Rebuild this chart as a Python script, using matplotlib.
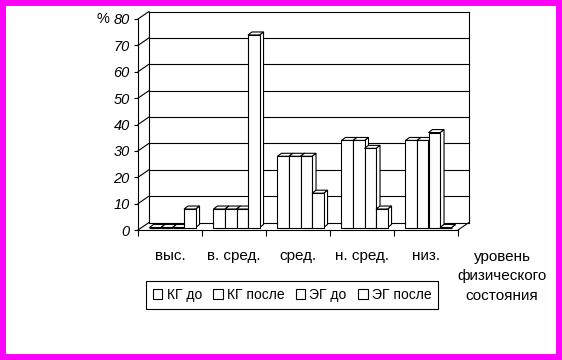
import matplotlib
matplotlib.use('Agg')
import matplotlib.pyplot as plt
from matplotlib.patches import Rectangle, Polygon, Patch

# данные: уровень физического состояния, %
categories = ['выс.', 'в. сред.', 'сред.', 'н. сред.', 'низ.']
series = ['КГ до', 'КГ после', 'ЭГ до', 'ЭГ после']
kg_before = [0, 7, 27, 33, 33]
kg_after = [0, 7, 27, 33, 33]
eg_before = [0, 7, 27, 30, 36]
eg_after = [7, 73, 13, 7, 0]
yticks = [0, 10, 20, 30, 40, 50, 60, 70, 80]

plt.rcParams['font.family'] = ['Liberation Sans', 'DejaVu Sans']
plt.rcParams['font.size'] = 10

fig = plt.figure(figsize=(5.62, 3.6), dpi=100)
ax = fig.add_axes([138 / 562, 130 / 360, 320 / 562, 211 / 360])
ax.set_xlim(0, len(categories))
ax.set_ylim(0, 80)

# перевод пикселей в единицы данных (псевдо-3D)
ux = 320 / len(categories)
uy = 211 / 80
back_x, back_y = 11 / ux, 7.5 / uy
off_x, off_y = 2.5 / ux, 2.5 / uy
dep_x, dep_y = 4 / ux, 3 / uy
lw = 0.8
n = len(categories)

# задняя стенка, левая стенка и пол
for t in yticks:
    ax.plot([back_x, n + back_x], [t + back_y, t + back_y], color='black', lw=lw, clip_on=False, zorder=1)
    ax.plot([0, back_x], [t, t + back_y], color='black', lw=lw, clip_on=False, zorder=1)
ax.plot([back_x, back_x], [back_y, 80 + back_y], color='black', lw=lw, clip_on=False, zorder=1)
ax.plot([n + back_x, n + back_x], [back_y, 80 + back_y], color='black', lw=lw, clip_on=False, zorder=1)
ax.plot([n, n + back_x], [0, back_y], color='black', lw=lw, clip_on=False, zorder=1)

# столбики
w = 0.18
values = [kg_before, kg_after, eg_before, eg_after]
z = 3
for i in range(n):
    start = i + (1 - 4 * w) / 2 + off_x
    for j, vals in enumerate(values):
        h = vals[i]
        x0 = start + j * w
        y0 = off_y
        side = Polygon([(x0 + w, y0), (x0 + w + dep_x, y0 + dep_y),
                        (x0 + w + dep_x, y0 + h + dep_y), (x0 + w, y0 + h)],
                       closed=True, facecolor='white', edgecolor='black', lw=lw, zorder=z, clip_on=False)
        top = Polygon([(x0, y0 + h), (x0 + w, y0 + h),
                       (x0 + w + dep_x, y0 + h + dep_y), (x0 + dep_x, y0 + h + dep_y)],
                      closed=True, facecolor='white', edgecolor='black', lw=lw, zorder=z, clip_on=False)
        front = Rectangle((x0, y0), w, h, facecolor='white', edgecolor='black', lw=lw, zorder=z + 0.5, clip_on=False)
        ax.add_patch(side)
        ax.add_patch(top)
        ax.add_patch(front)
        z += 1

# оси
for s in ['top', 'right']:
    ax.spines[s].set_visible(False)
for s in ['left', 'bottom']:
    ax.spines[s].set_linewidth(lw)
    ax.spines[s].set_zorder(2)
ax.set_yticks(yticks)
ax.set_yticklabels([str(t) for t in yticks], fontstyle='italic', fontsize=10.5)
ax.tick_params(axis='y', length=3, width=lw, pad=3)
ax.set_xticks(range(n + 1))
ax.set_xticklabels([])
ax.tick_params(axis='x', which='major', length=4, width=lw)
ax.set_xticks([i + 0.5 for i in range(n)], minor=True)
ax.set_xticklabels(categories, minor=True, fontsize=11)
ax.tick_params(axis='x', which='minor', length=0, pad=13.5)
ax.patch.set_visible(False)

fig.text(103 / 562, 1 - 19 / 360, '%', ha='center', va='center', fontsize=10.5)
fig.text(502 / 562, 1 - 276 / 360, 'уровень\nфизического\nсостояния', ha='center', va='center',
         linespacing=1.5, fontsize=11)

handles = [Patch(facecolor='white', edgecolor='black', lw=lw) for _ in series]
leg = fig.legend(handles, series, loc='center', bbox_to_anchor=(292 / 562, 65 / 360), ncol=4,
                 handlelength=0.7, handleheight=0.7, handletextpad=0.3, columnspacing=0.8,
                 fancybox=False, edgecolor='black', borderpad=0.5, framealpha=1)
leg.get_frame().set_linewidth(lw)

fig.add_artist(Rectangle((0, 0), 1, 1, transform=fig.transFigure, fill=False,
                         edgecolor='#ff00ff', linewidth=8.6, clip_on=False))

fig.savefig('out.png', dpi=100)
